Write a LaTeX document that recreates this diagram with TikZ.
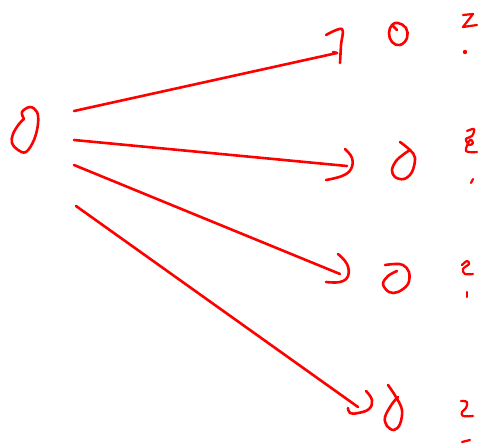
\documentclass[tikz,border=0pt]{standalone}
\begin{document}
\begin{tikzpicture}[x=1pt,y=-1pt,
  ink/.style={draw=red,line width=2.6pt,line cap=round,line join=round},
  dotmark/.style={fill=red}]
\useasboundingbox (0,0) rectangle (485,447);
% left loop
\draw[ink] plot[smooth,tension=0.6] coordinates {(24,119) (22,112) (30,107) (37,112) (38,124) (34,140) (26,152) (18,150) (12,143) (13,134) (19,124) (24,119)};
% connectors
\coordinate (s1) at (74,111); \coordinate (e1) at (337,53);
\coordinate (s2) at (74,140); \coordinate (e2) at (347,166);
\coordinate (s3) at (74,165); \coordinate (e3) at (340,274);
\coordinate (s4) at (76,206); \coordinate (e4) at (358,407);
\draw[ink] (s1) -- (e1);
\draw[ink] (s2) -- (e2);
\draw[ink] (s3) -- (e3);
\draw[ink] (s4) -- (e4);
% hooks
\draw[ink] (333,52) -- (e1);
\draw[ink] plot[smooth,tension=0.6] coordinates {(326,35) (342,29) (341,45) (340,63)};
\draw[ink] plot[smooth,tension=0.7] coordinates {(345,149) (352,158) (351,169) (342,176) (326,180)};
\draw[ink] plot[smooth,tension=0.7] coordinates {(338,254) (347,264) (348,276) (340,282) (326,282)};
\draw[ink] plot[smooth,tension=0.7] coordinates {(366,391) (372,400) (369,409) (358,413) (350,413) (348,408)};
% second column
\draw[ink] plot[smooth cycle,tension=0.7] coordinates {(398,23) (406,28) (407,38) (400,45) (392,42) (389,33) (392,25)};
\draw[ink] (397,30) -- (392,25);
\draw[ink] plot[smooth,tension=0.6] coordinates {(400,142) (410,150) (415,158) (412,172) (404,179) (395,177) (392,170) (396,161) (404,154) (410,150)};
\draw[ink] plot[smooth,tension=0.6] coordinates {(385,265) (395,264) (403,265) (409,272) (408,284) (398,292) (389,292) (383,284) (388,276) (397,271)};
\draw[ink] plot[smooth,tension=0.6] coordinates {(388,385) (396,397) (402,410) (400,424) (394,430) (387,426) (385,417) (392,404) (398,397)};
% third column marks
\draw[ink,line width=2.2pt] (463,15) -- (473,14) -- (463,27) -- (477,25);
\fill[dotmark] (465,52) circle (2.2);
\draw[ink,line width=2.2pt] plot[smooth,tension=0.6] coordinates {(467,131) (474,129) (472,136) (466,139) (469,145) (473,143) (470,140) (466,151) (477,152)};
\draw[ink,line width=2.2pt] (473,179) -- (471,183);
\draw[ink,line width=2.2pt] plot[smooth,tension=0.6] coordinates {(462,265) (467,261) (469,264) (463,269) (465,274) (473,274)};
\draw[ink,line width=2.2pt] (467,292) -- (467,297);
\draw[ink,line width=2.2pt] plot[smooth,tension=0.6] coordinates {(461,401) (467,402) (466,408) (462,412) (463,416) (473,416)};
\draw[ink,line width=2.2pt] (462,442) -- (470,440);
\end{tikzpicture}
\end{document}
